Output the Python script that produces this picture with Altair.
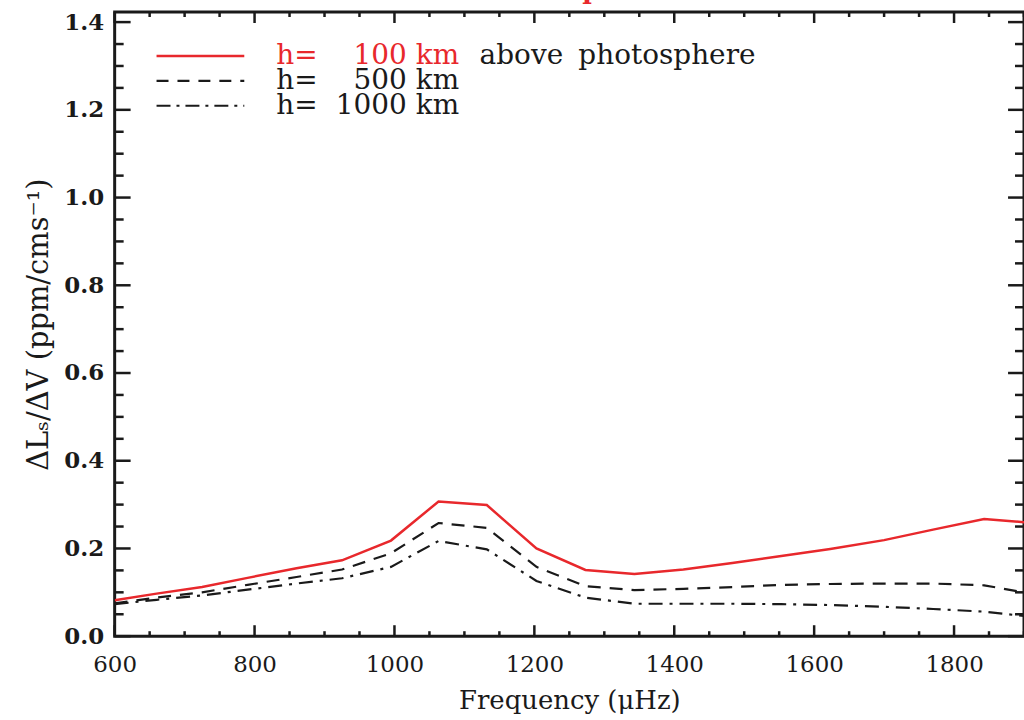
import altair as alt
import pandas as pd

# ---- data ----
freq = [600, 660, 725, 790, 860, 925, 995, 1063, 1132, 1203, 1273, 1343,
        1413, 1483, 1553, 1623, 1700, 1770, 1843, 1900]
h100 = [0.082, 0.097, 0.112, 0.133, 0.155, 0.173, 0.218, 0.307, 0.299, 0.200,
        0.151, 0.142, 0.152, 0.167, 0.183, 0.199, 0.219, 0.243, 0.267, 0.260]
h500 = [0.075, 0.088, 0.100, 0.117, 0.135, 0.152, 0.189, 0.258, 0.247, 0.158,
        0.114, 0.105, 0.108, 0.112, 0.117, 0.119, 0.120, 0.120, 0.116, 0.100]
h1000 = [0.073, 0.083, 0.093, 0.106, 0.120, 0.132, 0.158, 0.217, 0.198, 0.126,
         0.088, 0.074, 0.074, 0.074, 0.073, 0.071, 0.067, 0.062, 0.056, 0.046]

x_major = [600, 800, 1000, 1200, 1400, 1600, 1800]
x_minor = [650, 700, 750, 850, 900, 950, 1050, 1100, 1150, 1250, 1300, 1350,
           1450, 1500, 1550, 1650, 1700, 1750, 1850, 1900]
y_major = [0.0, 0.2, 0.4, 0.6, 0.8, 1.0, 1.2, 1.4]
y_minor = [0.05, 0.1, 0.15, 0.25, 0.3, 0.35, 0.45, 0.5, 0.55, 0.65, 0.7, 0.75,
           0.85, 0.9, 0.95, 1.05, 1.1, 1.15, 1.25, 1.3, 1.35]

legend_rows = ["100", "500", "1000"]

RED = "#e8282c"
INK = "#1a1a1a"
FONT = "DejaVu Serif"
W, H = 912, 626
XD = [600, 1900]
YD = [0, 1.423]

xs = alt.Scale(domain=XD, nice=False, zero=False)
ys = alt.Scale(domain=YD, nice=False, zero=False)

XAXIS = alt.Axis(values=x_major, ticks=False, domain=False, grid=False,
                 labelFont=FONT, labelFontSize=23, labelColor=INK,
                 labelPadding=17, labelFlush=False, title="Frequency (μHz)",
                 titleFont=FONT, titleFontSize=26, titleFontWeight="normal",
                 titleColor=INK, titlePadding=12, format="d")
YAXIS = alt.Axis(values=y_major, ticks=False, domain=False, grid=False,
                 format=".1f", labelFont=FONT, labelFontSize=23, labelFlush=False,
                 labelFontWeight="bold", labelColor=INK, labelPadding=11,
                 title="ΔLₛ/ΔV (ppm/cms⁻¹)", titleFont=FONT,
                 titleFontSize=29, titleFontWeight="normal",
                 titleColor=INK, titlePadding=10)


def X(field):
    return alt.X(field, type="quantitative", scale=xs, axis=XAXIS)


def Y(field):
    return alt.Y(field, type="quantitative", scale=ys, axis=YAXIS)


def series(vals):
    return pd.DataFrame({"f": freq, "v": vals})


l100 = alt.Chart(series(h100)).mark_line(color=RED, strokeWidth=2.5, clip=True).encode(
    x=X("f"), y=Y("v"))
l500 = alt.Chart(series(h500)).mark_line(color=INK, strokeWidth=2.2,
                                         strokeDash=[13, 9], clip=True).encode(
    x=X("f"), y=Y("v"))
l1000 = alt.Chart(series(h1000)).mark_line(color=INK, strokeWidth=2.2,
                                           strokeDash=[14, 7, 3, 7], clip=True).encode(
    x=X("f"), y=Y("v"))


def xticks(vals, length):
    d = pd.DataFrame({"f": vals})
    bot = alt.Chart(d).mark_rule(color=INK, strokeWidth=2.5).encode(
        x=X("f"), y=alt.value(H), y2=alt.value(H - length))
    top = alt.Chart(d).mark_rule(color=INK, strokeWidth=2.5).encode(
        x=X("f"), y=alt.value(0), y2=alt.value(length))
    return [bot, top]


def yticks(vals, length):
    d = pd.DataFrame({"v": vals})
    left = alt.Chart(d).mark_rule(color=INK, strokeWidth=2.5).encode(
        y=Y("v"), x=alt.value(0), x2=alt.value(length))
    right = alt.Chart(d).mark_rule(color=INK, strokeWidth=2.5).encode(
        y=Y("v"), x=alt.value(W), x2=alt.value(W - length))
    return [left, right]


ticks = xticks(x_major, 11) + xticks(x_minor, 5) + yticks(y_major, 16) + yticks(y_minor, 9)

# ---- legend ----
leg_y = [44, 69, 94]
one = pd.DataFrame({"a": [0]})

legend_layers = []
dashes = [None, [12, 9], [14, 6, 3, 6]]
colors = [RED, INK, INK]
LFS = 28
for i in range(3):
    kw = dict(color=colors[i], strokeWidth=2.5 if i == 0 else 2.2)
    if dashes[i]:
        kw["strokeDash"] = dashes[i]
    legend_layers.append(alt.Chart(one).mark_rule(**kw).encode(
        x=alt.value(42), x2=alt.value(130), y=alt.value(leg_y[i]), y2=alt.value(leg_y[i])))
    tkw = dict(font=FONT, fontSize=LFS, color=colors[i], baseline="middle")
    legend_layers.append(alt.Chart(one).mark_text(align="left", **tkw).encode(
        x=alt.value(162), y=alt.value(leg_y[i]), text=alt.value("h=")))
    legend_layers.append(alt.Chart(one).mark_text(align="right", **tkw).encode(
        x=alt.value(293), y=alt.value(leg_y[i]), text=alt.value(legend_rows[i])))
    legend_layers.append(alt.Chart(one).mark_text(align="left", **tkw).encode(
        x=alt.value(302), y=alt.value(leg_y[i]), text=alt.value("km")))
for word, xpos in [("above", 366), ("photosphere", 465)]:
    legend_layers.append(alt.Chart(one).mark_text(align="left", font=FONT, fontSize=LFS,
                                                  color=INK, baseline="middle").encode(
        x=alt.value(xpos), y=alt.value(leg_y[0]), text=alt.value(word)))

# clipped red title fragment at the very top
title_frag = alt.Chart(one).mark_text(align="center", font=FONT, fontSize=26,
                                      fontWeight="bold", color=RED,
                                      baseline="alphabetic").encode(
    x=alt.value(478), y=alt.value(-13), text=alt.value("p"))

chart = alt.layer(l100, l500, l1000, *ticks, *legend_layers, title_frag).properties(
    width=W, height=H,
    padding={"left": 115, "top": 11, "right": 0, "bottom": 83},
    autosize=alt.AutoSizeParams(type="none"),
    background="white",
).configure_view(stroke=INK, strokeWidth=3)

chart.save("out.html", embed_options={"renderer": "svg", "actions": False})
